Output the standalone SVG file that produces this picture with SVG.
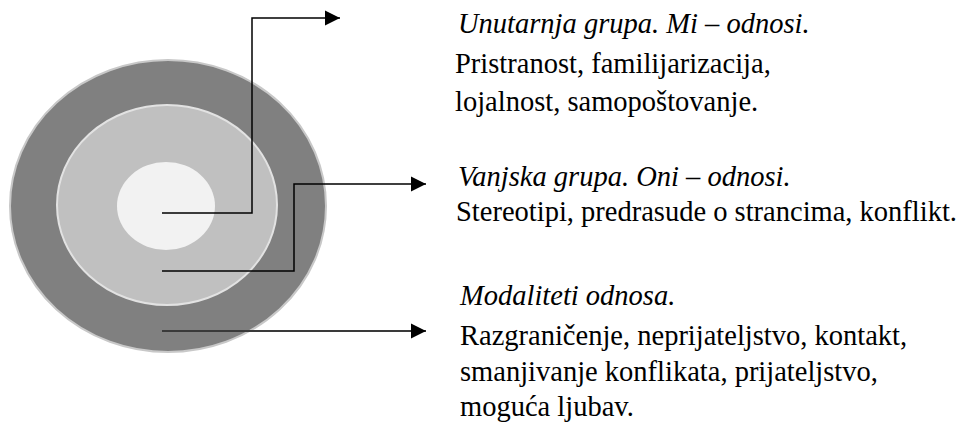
<svg xmlns="http://www.w3.org/2000/svg" width="972" height="430" viewBox="0 0 972 430">
<style>
.t{font-family:'Liberation Serif','Times New Roman',Times,'DejaVu Serif',serif;font-size:28.5px;fill:#000}
.i{font-style:italic}
.c{fill:none;stroke:#000;stroke-width:1.5}
</style>
<defs>
<marker id="ah" markerUnits="userSpaceOnUse" markerWidth="16" markerHeight="16" refX="15" refY="8" orient="auto">
<path d="M0,0.5 L15,8 L0,15.5 Z" fill="#000"/>
</marker>
</defs>
<rect width="972" height="430" fill="#fff"/>
<g id="outer"><ellipse cx="168" cy="206" rx="158" ry="146" fill="#808080" stroke="#c8c8c8" stroke-width="2"/></g>
<g id="middle"><ellipse cx="167" cy="205" rx="110" ry="100" fill="#c0c0c0" stroke="#e2e2e2" stroke-width="2"/></g>
<g id="inner"><ellipse cx="166" cy="206" rx="49" ry="44" fill="#f2f2f2"/></g>
<g id="connectors">
<polyline class="c" points="162,213 252,213 252,18 340,18" marker-end="url(#ah)"/>
<polyline class="c" points="162,271 294,271 294,184 426,184" marker-end="url(#ah)"/>
<polyline class="c" points="162,331 426,331" style="stroke:#3a3a3a;stroke-width:2" marker-end="url(#ah)"/>
</g>
<g id="label1">
<text class="t i" x="458" y="33">Unutarnja grupa. Mi – odnosi.</text>
<text class="t" x="455" y="73">Pristranost, familijarizacija,</text>
<text class="t" x="455" y="111">lojalnost, samopoštovanje.</text>
</g>
<g id="label2">
<text class="t i" x="458" y="186">Vanjska grupa. Oni – odnosi.</text>
<text class="t" x="456" y="221">Stereotipi, predrasude o strancima, konflikt.</text>
</g>
<g id="label3">
<text class="t i" x="460" y="305">Modaliteti odnosa.</text>
<text class="t" x="460" y="345">Razgraničenje, neprijateljstvo, kontakt,</text>
<text class="t" x="460" y="381">smanjivanje konflikata, prijateljstvo,</text>
<text class="t" x="460" y="416">moguća ljubav.</text>
</g>
</svg>
